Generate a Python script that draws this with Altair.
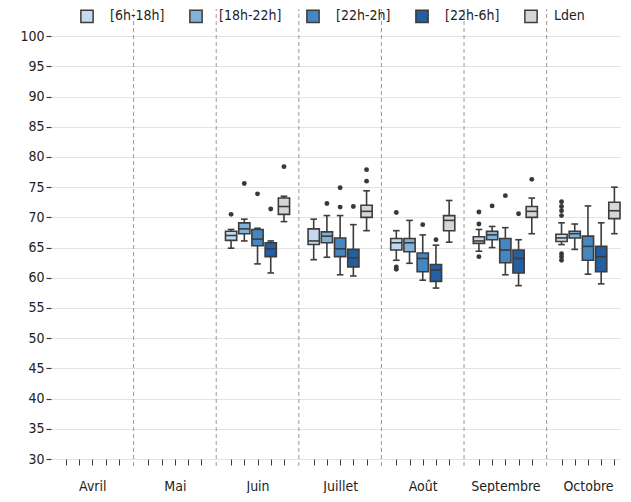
import altair as alt
import pandas as pd

months = ['Avril', 'Mai', 'Juin', 'Juillet', 'Août', 'Septembre', 'Octobre']
series = ['[6h-18h]', '[18h-22h]', '[22h-2h]', '[22h-6h]', 'Lden']
colors = ['#c5d9ee', '#82b2d6', '#4587c2', '#245ea3', '#d6d6d6']
data_months = ['Juin', 'Juillet', 'Août', 'Septembre', 'Octobre']

# per month: one value per series (in series order)
whisker_high = {
    'Juin':      [68.0, 69.7, 68.2, 66.1, 73.5],
    'Juillet':   [69.7, 70.3, 70.3, 68.8, 74.4],
    'Août':      [67.8, 69.5, 67.1, 65.4, 72.8],
    'Septembre': [68.0, 68.5, 68.3, 66.3, 73.2],
    'Octobre':   [69.1, 68.9, 71.9, 69.1, 75.0],
}
q3 = {
    'Juin':      [67.7, 69.1, 68.0, 65.8, 73.2],
    'Juillet':   [68.1, 67.6, 66.6, 64.7, 72.0],
    'Août':      [66.5, 66.5, 64.1, 62.2, 70.3],
    'Septembre': [66.8, 67.7, 66.5, 64.6, 71.8],
    'Octobre':   [67.2, 67.7, 66.9, 65.2, 72.5],
}
median = {
    'Juin':      [67.0, 68.1, 66.4, 64.8, 71.8],
    'Juillet':   [66.1, 66.9, 64.8, 63.3, 71.0],
    'Août':      [65.8, 65.8, 63.2, 61.3, 69.5],
    'Septembre': [66.1, 67.1, 64.6, 63.2, 71.0],
    'Octobre':   [66.6, 67.3, 65.2, 63.5, 71.1],
}
q1 = {
    'Juin':      [66.2, 67.3, 65.3, 63.5, 70.5],
    'Juillet':   [65.5, 65.8, 63.5, 61.8, 70.0],
    'Août':      [64.6, 64.3, 61.0, 59.4, 67.8],
    'Septembre': [65.7, 66.3, 62.5, 60.8, 70.0],
    'Octobre':   [66.0, 66.6, 62.9, 61.0, 69.8],
}
whisker_low = {
    'Juin':      [64.9, 66.1, 62.3, 60.8, 69.3],
    'Juillet':   [63.0, 63.4, 60.5, 60.3, 67.8],
    'Août':      [62.9, 62.4, 59.6, 58.3, 65.9],
    'Septembre': [64.4, 65.0, 60.5, 58.7, 67.3],
    'Octobre':   [65.5, 64.7, 60.6, 59.0, 67.3],
}
outliers = {
    'Juin':      [[70.5], [75.6], [73.9], [71.4], [78.4]],
    'Juillet':   [[], [72.3], [71.7, 74.9], [71.8], [76.0, 77.9]],
    'Août':      [[70.8, 61.8, 61.4], [], [68.8], [66.3], []],
    'Septembre': [[68.9, 70.9, 63.5], [71.9], [73.6], [70.6], [76.3]],
    'Octobre':   [[72.6, 71.8, 71.1, 70.3, 64.0, 63.5, 62.9], [], [], [], []],
}
y_ticks = list(range(30, 101, 5))

hue_step = 0.16
box_half = 0.068
cap_half = 0.04

rows, out_rows = [], []
for m in data_months:
    mi = months.index(m)
    for k, s in enumerate(series):
        pos = mi + (k - 2) * hue_step
        rows.append(dict(month=m, serie=s, pos=pos,
                         left=pos - box_half, right=pos + box_half,
                         capl=pos - cap_half, capr=pos + cap_half,
                         whi=whisker_high[m][k], q3=q3[m][k], med=median[m][k],
                         q1=q1[m][k], wlo=whisker_low[m][k]))
        for v in outliers[m][k]:
            out_rows.append(dict(month=m, serie=s, pos=pos, value=v))
box_df = pd.DataFrame(rows)
out_df = pd.DataFrame(out_rows)
bound_df = pd.DataFrame({'b': [i + 0.5 for i in range(len(months) - 1)],
                         'lo': [30] * (len(months) - 1),
                         'hi': [104.5] * (len(months) - 1)})

tick_positions = [round(mi + (k - 2) * hue_step, 4)
                  for mi in range(len(months)) for k in range(len(series))]
label_expr = ("datum.value == floor(datum.value) ? [" +
              ",".join("'" + m + "'" for m in months) +
              "][datum.value] : ''")

xscale = alt.Scale(domain=[-0.5, 6.4], nice=False, zero=False)
yscale = alt.Scale(domain=[30, 104.5], nice=False, zero=False)
edge = '#3c3c3c'

xaxis = alt.Axis(values=tick_positions, labelExpr=label_expr, tickSize=6,
                 tickColor=edge, tickWidth=1, domain=False, grid=False,
                 labelOverlap=False, labelPadding=14, labelFontSize=14,
                 labelColor='#222', title=None)
yaxis = alt.Axis(values=y_ticks, tickSize=5, tickColor=edge, tickWidth=1.2,
                 domain=False, grid=True, gridColor='#e3e3e3', gridWidth=1,
                 labelFontSize=14, labelColor='#222', labelPadding=2,
                 labelOverlap=False, minExtent=43, maxExtent=43, title=None)


def X(field):
    return alt.X(field, type='quantitative', scale=xscale, axis=xaxis)


def Y(field):
    return alt.Y(field, type='quantitative', scale=yscale, axis=yaxis)


base = alt.Chart(box_df)

bounds = alt.Chart(bound_df).mark_rule(color='#9a9a9a', strokeDash=[4, 3],
                                       strokeWidth=1, yOffset=7).encode(
    x=X('b'), y=Y('lo'), y2='hi:Q')

whiskers = base.mark_rule(color=edge, strokeWidth=1.6).encode(
    x=X('pos'), y=Y('wlo'), y2='whi:Q')

boxes = base.mark_bar(stroke=edge, strokeWidth=1.6).encode(
    x=X('left'), x2='right:Q',
    y=Y('q1'), y2='q3:Q',
    color=alt.Color('serie:N',
                    scale=alt.Scale(domain=series, range=colors),
                    legend=alt.Legend(title=None, orient='none', direction='horizontal',
                                      columns=5, legendX=29, legendY=0,
                                      symbolType='square', symbolSize=150,
                                      symbolStrokeColor=edge, symbolStrokeWidth=1.5,
                                      symbolOpacity=1,
                                      labelFontSize=14, labelColor='#222',
                                      labelOffset=16, columnPadding=21,
                                      gridAlign='each')))

medians = base.mark_rule(color=edge, strokeWidth=1.6).encode(
    x=X('left'), x2='right:Q', y=Y('med'))

caps_lo = base.mark_rule(color=edge, strokeWidth=1.6).encode(
    x=X('capl'), x2='capr:Q', y=Y('wlo'))
caps_hi = base.mark_rule(color=edge, strokeWidth=1.6).encode(
    x=X('capl'), x2='capr:Q', y=Y('whi'))

points = alt.Chart(out_df).mark_circle(size=24, color='#383838', opacity=1).encode(
    x=X('pos'), y=Y('value'))

chart = alt.layer(bounds, whiskers, caps_lo, caps_hi, boxes, medians, points).properties(
    width=570, height=450, padding={'left': 0, 'top': 0, 'right': 0, 'bottom': 0}
).configure(font='DejaVu Sans Condensed').configure_view(stroke=None)

chart.save("out.html", embed_options={"renderer": "svg", "actions": False})
